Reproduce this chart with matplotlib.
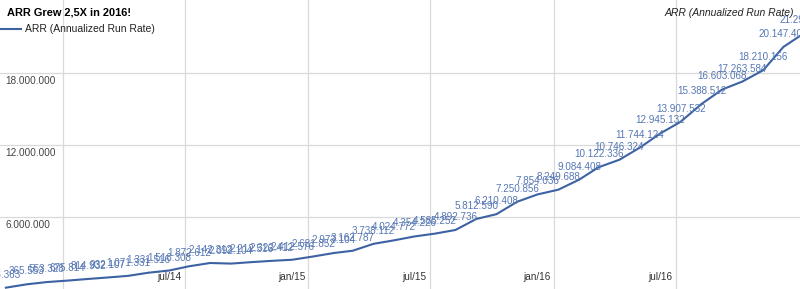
import matplotlib
matplotlib.use('Agg')
import matplotlib.pyplot as plt
import matplotlib.dates as mdates
from matplotlib.lines import Line2D
from datetime import date

plt.rcParams['font.family'] = ['Liberation Sans', 'DejaVu Sans']

# ---- data ----
months = ['2013-10', '2013-11', '2013-12', '2014-01', '2014-02', '2014-03',
          '2014-04', '2014-05', '2014-06', '2014-07', '2014-08', '2014-09',
          '2014-10', '2014-11', '2014-12', '2015-01', '2015-02', '2015-03',
          '2015-04', '2015-05', '2015-06', '2015-07', '2015-08', '2015-09',
          '2015-10', '2015-11', '2015-12', '2016-01', '2016-02', '2016-03',
          '2016-04', '2016-05', '2016-06', '2016-07', '2016-08', '2016-09',
          '2016-10', '2016-11', '2016-12', '2017-01']
arr = [86363, 365553, 553328, 675814, 814932, 932107,
       1071331, 1331516, 1516308, 1872612, 2142312, 2092104,
       2212516, 2322412, 2412576, 2681852, 2973104, 3162787,
       3738112, 4024772, 4354226, 4585252, 4892736, 5812590,
       6210408, 7250856, 7854036, 8249688, 9084408, 10122336,
       10746324, 11744124, 12945132, 13907532, 15388512, 16603068,
       17263584, 18210156, 20147404, 21297480]
y_ticks = [6000000, 12000000, 18000000]
x_tick_dates = ['2014-07', '2015-01', '2015-07', '2016-01', '2016-07']
x_tick_labels = ['jul/14', 'jan/15', 'jul/15', 'jan/16', 'jul/16']
grid_dates = ['2014-01', '2014-07', '2015-01', '2015-07', '2016-01', '2016-07']

LINE = '#3d62a4'
LBL = '#5577b3'
GRID = '#d9d9d9'


def dnum(m, day=1):
    return mdates.date2num(date(int(m[:4]), int(m[5:]), day))


def fmt(v):
    return f"{v:,}".replace(',', '.')


fig = plt.figure(figsize=(8, 2.89), dpi=100)
ax = fig.add_axes([0, 0, 1, 1])
ax.axis('off')

x = [dnum(m, 8) for m in months]

ax.set_xlim(dnum('2014-01') - 93.75, dnum('2017-01') + 0.7)
ax.set_ylim(-25000, 24058000)

for g in grid_dates:
    ax.axvline(dnum(g), color=GRID, lw=0.9, zorder=0)
for v in y_ticks:
    ax.axhline(v, color=GRID, lw=0.9, zorder=0)
    ax.annotate(fmt(v), xy=(0, v), xycoords=('axes fraction', 'data'),
                xytext=(5, -8), textcoords='offset pixels',
                ha='left', va='center', fontsize=7.2, color='#444444')

for d, lab in zip(x_tick_dates, x_tick_labels):
    ax.annotate(lab, xy=(dnum(d), 0), xycoords=('data', 'axes fraction'),
                xytext=(-3, 12), textcoords='offset pixels',
                ha='right', va='center', fontsize=7.2, color='#333333')

ax.plot(x, arr, color=LINE, lw=1.5, solid_joinstyle='round', zorder=3)
for xi, v in zip(x, arr):
    ax.annotate(fmt(v), (xi, v), xytext=(0, 13), textcoords='offset pixels',
                ha='center', va='center', fontsize=7.1, color=LBL, zorder=4,
                annotation_clip=False)

H = 289.0
fig.text(7 / 800, 1 - 12.7 / H, 'ARR Grew 2,5X in 2016!', ha='left', va='center',
         fontsize=7.9, fontweight='bold', color='#000000')
fig.add_artist(Line2D([0, 21 / 800], [1 - 28.7 / H] * 2, color=LINE, lw=1.5,
                      transform=fig.transFigure))
fig.text(25 / 800, 1 - 29 / H, 'ARR (Annualized Run Rate)', ha='left', va='center',
         fontsize=7.5, color='#222222')
fig.text(794 / 800, 1 - 12.7 / H, 'ARR (Annualized Run Rate)', ha='right', va='center',
         fontsize=7.5, fontstyle='italic', color='#222222')

fig.savefig('out.png', dpi=100)
